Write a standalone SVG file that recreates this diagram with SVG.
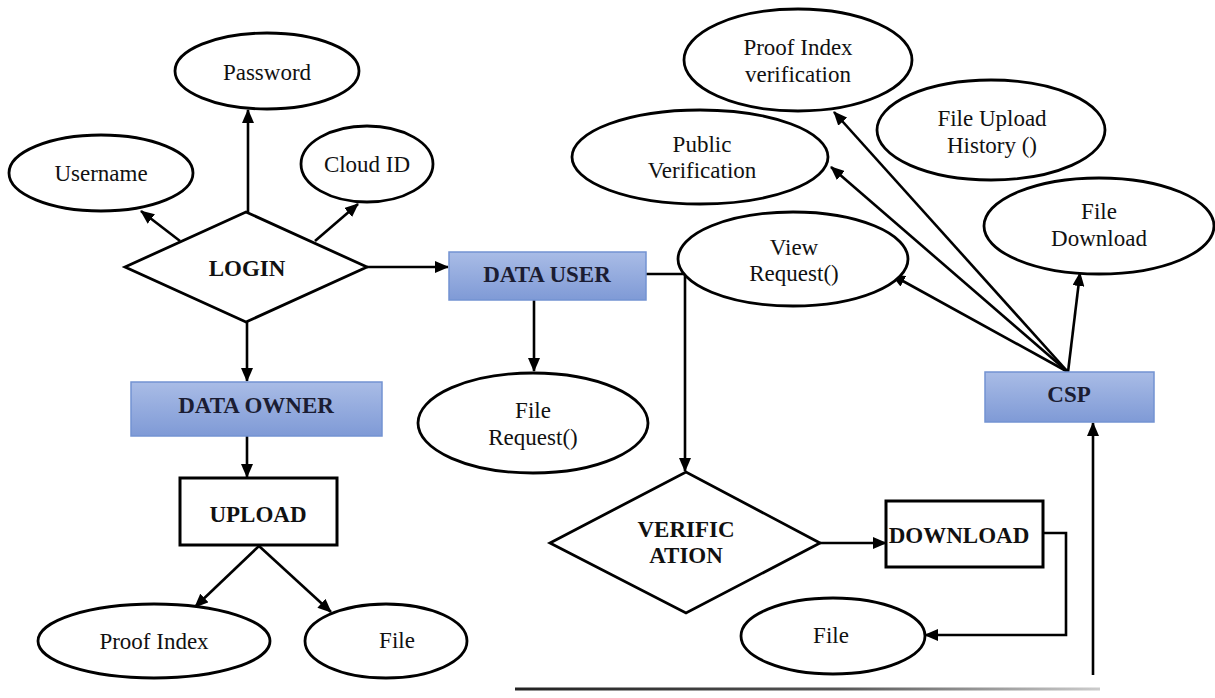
<svg xmlns="http://www.w3.org/2000/svg" width="1215" height="698" viewBox="0 0 1215 698">
<style>
.ell{fill:#fff;stroke:#000;stroke-width:2.8}
.dia{fill:#fff;stroke:#000;stroke-width:2.8}
.box{fill:#fff;stroke:#000;stroke-width:3}
.blue{fill:url(#bg);stroke:#7393d2;stroke-width:1.5}
.t{font-family:"Liberation Serif","Times New Roman",serif;font-size:23px;fill:#111;text-anchor:middle}
.b{font-family:"Liberation Serif","Times New Roman",serif;font-size:23px;font-weight:bold;fill:#111;text-anchor:middle}
.bn{fill:#1b1d33}
.c{fill:none;stroke:#000;stroke-width:2.6}
</style>
<defs>
<linearGradient id="bg" x1="0" y1="0" x2="0" y2="1">
<stop offset="0" stop-color="#a9bce6"/>
<stop offset="1" stop-color="#7f9ad6"/>
</linearGradient>
<linearGradient id="lg" gradientUnits="userSpaceOnUse" x1="515" y1="0" x2="1100" y2="0">
<stop offset="0" stop-color="#222"/>
<stop offset="0.55" stop-color="#555"/>
<stop offset="1" stop-color="#ccc"/>
</linearGradient>
<marker id="ah" viewBox="0 0 14 12" refX="13" refY="6" markerWidth="14" markerHeight="12" markerUnits="userSpaceOnUse" orient="auto">
<path d="M0,0 L14,6 L0,12 z" fill="#000"/>
</marker>
</defs>

<g id="connectors">
<line class="c" x1="248" y1="212" x2="248" y2="110" marker-end="url(#ah)"/>
<line class="c" x1="180" y1="241" x2="141" y2="211" marker-end="url(#ah)"/>
<line class="c" x1="315" y1="241" x2="358" y2="204" marker-end="url(#ah)"/>
<line class="c" x1="367" y1="267" x2="448" y2="267" marker-end="url(#ah)"/>
<line class="c" x1="247" y1="322" x2="247" y2="381" marker-end="url(#ah)"/>
<line class="c" x1="247" y1="436" x2="247" y2="477" marker-end="url(#ah)"/>
<line class="c" x1="259" y1="546" x2="195" y2="607" marker-end="url(#ah)"/>
<line class="c" x1="259" y1="546" x2="331" y2="612" marker-end="url(#ah)"/>
<line class="c" x1="534" y1="300" x2="534" y2="371" marker-end="url(#ah)"/>
<polyline class="c" points="646,274 685,274 685,471" marker-end="url(#ah)"/>
<line class="c" x1="820" y1="543" x2="886" y2="543" marker-end="url(#ah)"/>
<polyline class="c" points="1043,533 1066,533 1066,635 925,635" marker-end="url(#ah)"/>
<line class="c" x1="1093" y1="675" x2="1093" y2="423" marker-end="url(#ah)"/>
<line class="c" x1="1068" y1="372" x2="834" y2="112" marker-end="url(#ah)"/>
<line class="c" x1="1068" y1="372" x2="831" y2="167" marker-end="url(#ah)"/>
<line class="c" x1="1068" y1="372" x2="892" y2="275" marker-end="url(#ah)"/>
<line class="c" x1="1068" y1="372" x2="1080" y2="273" marker-end="url(#ah)"/>
<line x1="515" y1="689" x2="1100" y2="689" stroke="url(#lg)" stroke-width="3"/>
</g>

<g id="password"><ellipse class="ell" cx="267" cy="71" rx="92" ry="38"/><text class="t" x="267" y="80">Password</text></g>
<g id="username"><ellipse class="ell" cx="101" cy="173" rx="92" ry="38"/><text class="t" x="101" y="181">Username</text></g>
<g id="cloudid"><ellipse class="ell" cx="367" cy="164" rx="66" ry="38"/><text class="t" x="367" y="172">Cloud ID</text></g>
<g id="login"><polygon class="dia" points="125,267 246,212 367,267 246,322"/><text class="b" x="247" y="276">LOGIN</text></g>
<g id="datauser"><rect class="blue" x="449" y="252" width="197" height="48"/><text class="b bn" x="547" y="282">DATA USER</text></g>
<g id="filerequest"><ellipse class="ell" cx="533" cy="423" rx="115" ry="50"/><text class="t" x="533" y="418">File</text><text class="t" x="533" y="445">Request()</text></g>
<g id="dataowner"><rect class="blue" x="131" y="382" width="251" height="54"/><text class="b bn" x="256" y="413">DATA OWNER</text></g>
<g id="upload"><rect class="box" x="180" y="478" width="157" height="67"/><text class="b" x="258" y="522">UPLOAD</text></g>
<g id="proofindex"><ellipse class="ell" cx="154" cy="641" rx="116" ry="37"/><text class="t" x="154" y="649">Proof Index</text></g>
<g id="file1"><ellipse class="ell" cx="386" cy="641" rx="81" ry="37"/><text class="t" x="397" y="648">File</text></g>
<g id="proofverif"><ellipse class="ell" cx="798" cy="60" rx="114" ry="51"/><text class="t" x="798" y="55">Proof Index</text><text class="t" x="798" y="82">verification</text></g>
<g id="uploadhistory"><ellipse class="ell" cx="991" cy="130" rx="114" ry="50"/><text class="t" x="992" y="126">File Upload</text><text class="t" x="992" y="153">History ()</text></g>
<g id="publicverif"><ellipse class="ell" cx="700" cy="157" rx="128" ry="47"/><text class="t" x="702" y="152">Public</text><text class="t" x="702" y="178">Verification</text></g>
<g id="filedownload"><ellipse class="ell" cx="1099" cy="226" rx="115" ry="48"/><text class="t" x="1099" y="219">File</text><text class="t" x="1099" y="246">Download</text></g>
<g id="viewrequest"><ellipse class="ell" cx="793" cy="259" rx="115" ry="47"/><text class="t" x="794" y="255">View</text><text class="t" x="794" y="281">Request()</text></g>
<g id="csp"><rect class="blue" x="985" y="372" width="169" height="50"/><text class="b bn" x="1069" y="402">CSP</text></g>
<g id="verification"><polygon class="dia" points="550,543 686,472 820,543 686,613"/><text class="b" x="686" y="537">VERIFIC</text><text class="b" x="686" y="563">ATION</text></g>
<g id="download"><rect class="box" x="886" y="501" width="157" height="66"/><text class="b" x="959" y="543">DOWNLOAD</text></g>
<g id="file2"><ellipse class="ell" cx="833" cy="636" rx="92" ry="38"/><text class="t" x="831" y="643">File</text></g>
</svg>
